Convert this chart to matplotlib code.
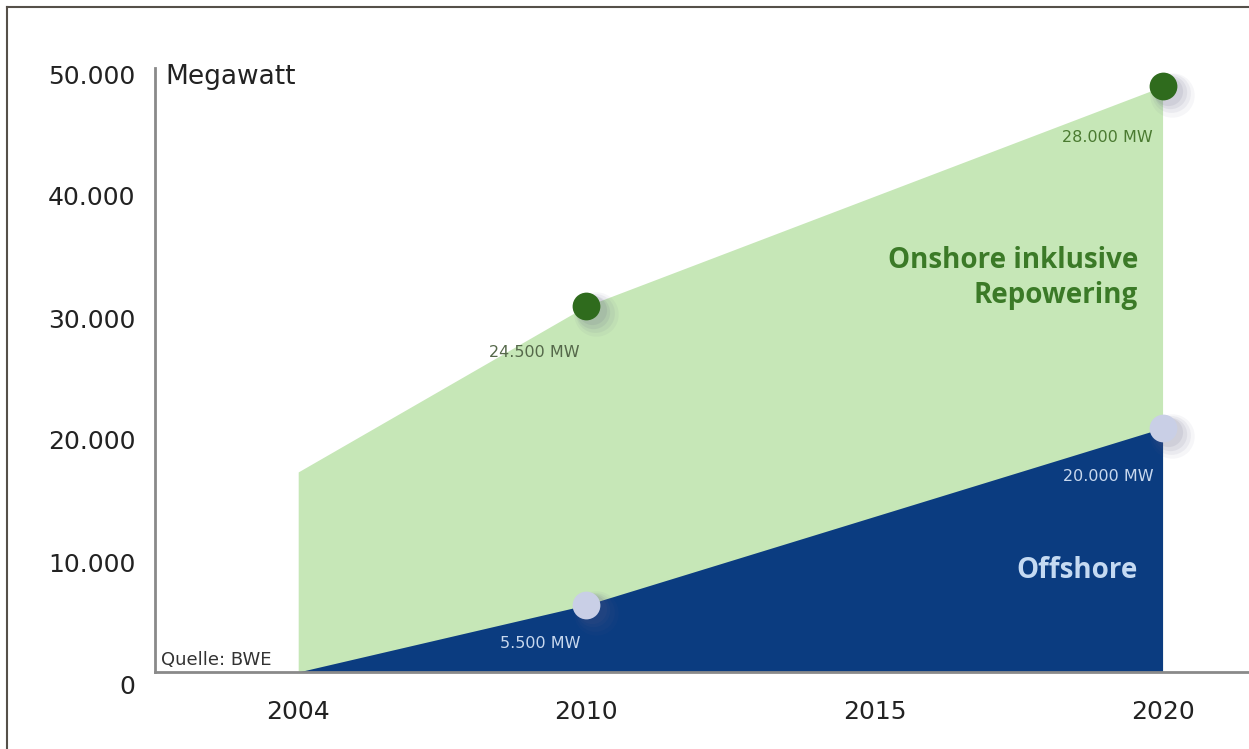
import matplotlib
matplotlib.use("Agg")
import matplotlib.pyplot as plt
import matplotlib.transforms as mtransforms
from matplotlib.lines import Line2D
import numpy as np

plt.rcParams['font.family'] = ['DejaVu Sans']

# Data
years = ["2004", "2010", "2015", "2020"]
point_years = ["2004", "2010", "2020"]
offshore = [0, 5500, 20000]
onshore = [16400, 24500, 28000]
onshore_labels = ["", "24.500 MW", "28.000 MW"]
offshore_labels = ["", "5.500 MW", "20.000 MW"]
y_ticks = [0, 10000, 20000, 30000, 40000, 50000]
y_tick_labels = ["0", "10.000", "20.000", "30.000", "40.000", "50.000"]

green_fill = "#c6e7b7"
blue_fill = "#0b3c80"
dark_green = "#2f6b1d"
light_dot = "#c9cfe6"

fig = plt.figure(figsize=(12.49, 7.49), dpi=100)
ax = fig.add_axes([155/1249, 1-672/749, (1249-155)/1249, (672-62)/749])

xpos = [years.index(y) for y in point_years]
total = [a + b for a, b in zip(offshore, onshore)]

ax.fill_between(xpos, 0, total, color=green_fill, lw=0, zorder=1)
ax.fill_between(xpos, 0, offshore, color=blue_fill, lw=0, zorder=2)

ax.set_xlim(-0.497, 3.3)
ax.set_ylim(0, 50000)

# marker shadows
def shadowed(x, y, color):
    for dx, dy, a, s in [(7, -6, 0.05, 32), (6, -5, 0.07, 28), (5, -4, 0.09, 24), (4, -3, 0.10, 21)]:
        off = mtransforms.offset_copy(ax.transData, fig=fig, x=dx, y=dy, units='points')
        ax.plot([x], [y], 'o', ms=s, color='#5a5a80', alpha=a, mec='none', transform=off, zorder=4)
    ax.plot([x], [y], 'o', ms=20, color=color, mec='none', zorder=5, clip_on=False)

for i, xp in enumerate(xpos):
    if onshore_labels[i]:
        shadowed(xp, total[i], dark_green)
    if offshore_labels[i]:
        shadowed(xp, offshore[i], light_dot)

# annotations
ann_font = ['DejaVu Sans']
ax.text(xpos[1] - 0.18, total[1] - 3800, onshore_labels[1], ha='center', va='center',
        fontsize=11.5, color='#55684a', family=ann_font)
ax.text(xpos[2] - 0.19, total[2] - 4200, onshore_labels[2], ha='center', va='center',
        fontsize=11.5, color='#4a7a30', family=ann_font)
ax.text(xpos[2] - 0.19, offshore[2] - 4000, offshore_labels[2], ha='center', va='center',
        fontsize=11.5, color='#c8d8ee', family=ann_font)
ax.text(xpos[1] - 0.16, offshore[1] - 3200, offshore_labels[1], ha='center', va='center',
        fontsize=11.5, color='#c8d8ee', family=ann_font)

ax.text(2.915, 32300, "Onshore inklusive\nRepowering", ha='right', va='center',
        fontsize=20, fontweight='bold', color='#3b7a27', linespacing=1.3,
        family=['Open Sans', 'DejaVu Sans'])
ax.text(2.915, 8300, "Offshore", ha='right', va='center',
        fontsize=20, fontweight='bold', color='#c5daf2',
        family=['Open Sans', 'DejaVu Sans'])

ax.text(-0.46, 48800, "Megawatt", fontsize=19, color='#222222', ha='left', va='center')
ax.text(-0.475, 1000, "Quelle: BWE", fontsize=13, color='#333333', ha='left', va='center')

# axes styling
for s in ['top', 'right']:
    ax.spines[s].set_visible(False)
for s in ['left', 'bottom']:
    ax.spines[s].set_color('#8a8a8a')
    ax.spines[s].set_linewidth(2)
    ax.spines[s].set_zorder(3)
ax.spines['left'].set_bounds(0, 49500)

ax.set_xticks(range(len(years)))
ax.set_xticklabels(years, fontsize=18, color='#222222')
ax.set_yticks(y_ticks)
ax.set_yticklabels(y_tick_labels, fontsize=18, color='#222222')
ax.tick_params(axis='both', length=0)
ax.tick_params(axis='x', pad=20)
ax.tick_params(axis='y', pad=14)
offset = mtransforms.ScaledTranslation(0, -12/100, fig.dpi_scale_trans)
for lab in ax.get_yticklabels():
    lab.set_transform(lab.get_transform() + offset)

# frame lines (top and left)
fig.add_artist(Line2D([7/1249, 1], [1-7/749, 1-7/749], color='#555049', lw=1.5, transform=fig.transFigure))
fig.add_artist(Line2D([7/1249, 7/1249], [0, 1-7/749], color='#555049', lw=1.5, transform=fig.transFigure))

fig.savefig("out.png", dpi=100)
